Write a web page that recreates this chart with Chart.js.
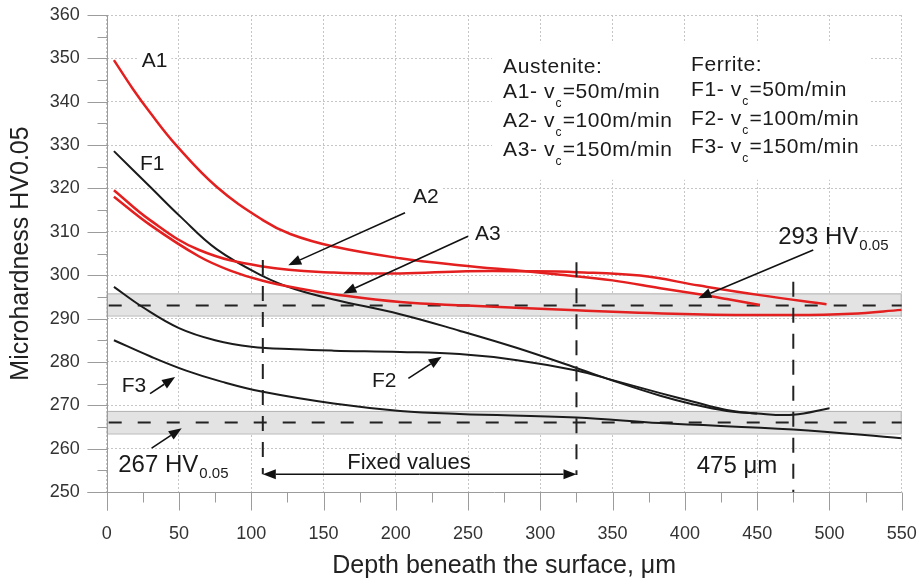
<!DOCTYPE html>
<html>
<head>
<meta charset="utf-8">
<script src="https://cdn.jsdelivr.net/npm/chart.js@4.4.1/dist/chart.umd.min.js"></script>
<style>
html,body{margin:0;padding:0;background:#fff;}
#wrap{width:919px;height:584px;}
</style>
</head>
<body>
<div id="wrap"><canvas id="c" width="919" height="584"></canvas></div>
<script>
// ---------- data ----------
const depthA1 = [5, 18, 30, 48, 76, 108, 127, 157, 203, 244, 290, 314, 350, 383, 410, 429, 452];
const hvA1    = [349.6, 343.0, 337.5, 330.0, 320.4, 312.7, 309.5, 306.6, 303.9, 302.3, 300.9, 300.1, 298.8, 297.0, 295.6, 294.5, 293.1];

const depthA2 = [5, 30, 64, 108, 157, 203, 249, 290, 325, 369, 410, 452, 498];
const hvA2    = [319.6, 312.7, 305.8, 302.0, 300.6, 300.4, 300.9, 300.9, 300.7, 299.9, 297.6, 295.4, 293.3];

const depthA3 = [5, 30, 64, 86, 108, 135, 157, 203, 249, 325, 406, 475, 515, 550];
const hvA3    = [318.1, 311.6, 304.3, 301.0, 298.7, 296.8, 295.6, 293.8, 293.0, 291.9, 291.0, 290.8, 291.1, 292.0];

const depthF1 = [5, 30, 51, 76, 108, 130, 157, 203, 244, 284, 325, 350, 383, 406, 429, 450];
const hvF1    = [328.6, 320.4, 313.5, 306.0, 299.8, 296.8, 294.4, 291.0, 287.2, 283.2, 278.6, 275.7, 272.2, 270.2, 268.7, 268.1];

const depthF2 = [5, 25, 50, 75, 100, 130, 157, 203, 244, 284, 325, 350, 383, 406, 429, 450, 475, 500];
const hvF2    = [297.3, 292.6, 287.8, 285.0, 283.5, 282.9, 282.6, 282.3, 281.8, 280.4, 278.0, 275.8, 272.8, 270.8, 268.9, 268.1, 267.8, 269.3];

const depthF3 = [5, 30, 55, 80, 108, 157, 203, 244, 325, 383, 475, 550];
const hvF3    = [285.0, 281.3, 278.0, 275.4, 273.1, 270.4, 268.7, 268.0, 267.2, 265.9, 264.4, 262.4];

// axis ranges / ticks
const xMin = 0, xMax = 550, xStep = 50, xMinorStep = 25;
const yMin = 250, yMax = 360, yStep = 10, yMinorStep = 5;

// reference levels (dashed horizontal lines) and scatter bands
const refLevels = [293, 266];
const refBandLow  = [290.7, 263.5];
const refBandHigh = [295.8, 268.7];

// vertical dashed markers
const markerDepth = [108, 325, 475];
const markerTop   = [303.5, 303.0, 298.5];
const markerBot   = [254.1, 253.9, 250];

// "Fixed values" span
const fixedFrom = 108, fixedTo = 325, fixedLevel = 254.1;

// annotation arrows: tail -> tip (data units)
const arrowTailX = [206.4, 250.0, 488.8, 30.0, 208.7, 31.1];
const arrowTailY = [314.4, 309.0, 305.8, 272.7, 276.2, 260.1];
const arrowTipX  = [125.6, 163.7, 409.3, 47.3, 231.7, 51.9];
const arrowTipY  = [302.3, 295.8, 294.7, 276.5, 281.2, 264.7];

// curve labels
const curveLabelText = ['A1', 'F1', 'A2', 'A3', 'F3', 'F2'];
const curveLabelX    = [24.2, 23.0, 211.9, 254.8, 10.4, 183.5];
const curveLabelY    = [348.0, 324.25, 316.6, 308.1, 273.0, 274.2];

// legend text
const legendAustenite = ['A1- v|c|=50m/min', 'A2- v|c|=100m/min', 'A3- v|c|=150m/min'];
const legendFerrite   = ['F1- v|c|=50m/min', 'F2- v|c|=100m/min', 'F3- v|c|=150m/min'];

// ---------- styling ----------
const FONT = '"Liberation Sans", Arial, Helvetica, sans-serif';
const RED = '#e3201f';
const BLACK = '#1b1b1b';
const toPts = (xs, ys) => xs.map((v, i) => ({x: v, y: ys[i]}));

const decor = {
  id: 'decor',
  beforeDatasetsDraw(chart) {
    const {ctx, scales: {x, y}} = chart;
    const X = v => x.getPixelForValue(v), Y = v => y.getPixelForValue(v);
    ctx.save();
    // white box behind legend text
    ctx.fillStyle = '#fff';
    ctx.fillRect(X(266.6), Y(353.5), X(528) - X(266.6), Y(322) - Y(353.5));
    // white boxes behind curve labels
    ctx.font = '21px ' + FONT;
    curveLabelText.forEach((t, i) => {
      const w = ctx.measureText(t).width;
      ctx.fillRect(X(curveLabelX[i]) - 4, Y(curveLabelY[i]) - 19, w + 8, 24);
    });
    // bands
    for (let i = 0; i < refLevels.length; i++) {
      const t = Y(refBandHigh[i]), b = Y(refBandLow[i]);
      ctx.fillStyle = '#e3e3e3';
      ctx.fillRect(X(xMin), t, X(xMax) - X(xMin), b - t);
      ctx.strokeStyle = '#b3b3b3';
      ctx.lineWidth = 1;
      ctx.strokeRect(X(xMin) + 0.5, t + 0.5, X(xMax) - X(xMin) - 1, b - t);
    }
    // dashed reference lines
    ctx.strokeStyle = '#222';
    ctx.lineWidth = 2;
    ctx.setLineDash([13, 16]);
    ctx.lineDashOffset = -2;
    refLevels.forEach(v => {
      ctx.beginPath();
      ctx.moveTo(X(xMin), Y(v));
      ctx.lineTo(X(xMax), Y(v));
      ctx.stroke();
    });
    ctx.setLineDash([]);
    // axes and ticks
    ctx.strokeStyle = '#9c9c9c';
    ctx.lineWidth = 1;
    const x0 = Math.round(X(xMin)) + 0.5, yb = Math.round(Y(yMin)) + 0.5;
    ctx.beginPath();
    ctx.moveTo(x0, Y(yMax)); ctx.lineTo(x0, yb + 18);
    ctx.moveTo(x0 - 20, yb); ctx.lineTo(X(xMax), yb);
    for (let v = yMin; v <= yMax; v += yStep) {
      const p = Math.round(Y(v)) + 0.5;
      ctx.moveTo(x0 - 20, p); ctx.lineTo(x0, p);
    }
    for (let v = yMin + yMinorStep; v < yMax; v += yStep) {
      const p = Math.round(Y(v)) + 0.5;
      ctx.moveTo(x0 - 10, p); ctx.lineTo(x0, p);
    }
    for (let v = xMin; v <= xMax; v += xStep) {
      const p = Math.round(X(v)) + 0.5;
      ctx.moveTo(p, yb); ctx.lineTo(p, yb + 18);
    }
    for (let v = xMinorStep; v < xMax; v += xStep) {
      const p = Math.round(X(v)) + 0.5;
      ctx.moveTo(p, yb); ctx.lineTo(p, yb + 10);
    }
    ctx.stroke();
    ctx.restore();
  },
  afterDatasetsDraw(chart) {
    const {ctx, scales: {x, y}} = chart;
    const X = v => x.getPixelForValue(v), Y = v => y.getPixelForValue(v);
    ctx.save();
    // vertical dashed markers
    ctx.strokeStyle = '#222';
    ctx.lineWidth = 2;
    ctx.setLineDash([15, 11]);
    markerDepth.forEach((d, i) => {
      ctx.beginPath();
      ctx.moveTo(X(d), Y(markerTop[i]));
      ctx.lineTo(X(d), Y(markerBot[i]));
      ctx.stroke();
    });
    ctx.setLineDash([]);
    // arrow helper
    const arrow = (x1, y1, x2, y2, len, half) => {
      const a = Math.atan2(y2 - y1, x2 - x1);
      const bx = x2 - len * Math.cos(a), by = y2 - len * Math.sin(a);
      ctx.beginPath();
      ctx.moveTo(x1, y1); ctx.lineTo(bx, by);
      ctx.stroke();
      ctx.beginPath();
      ctx.moveTo(x2, y2);
      ctx.lineTo(bx + half * Math.sin(a), by - half * Math.cos(a));
      ctx.lineTo(bx - half * Math.sin(a), by + half * Math.cos(a));
      ctx.closePath();
      ctx.fill();
    };
    ctx.strokeStyle = '#111';
    ctx.fillStyle = '#111';
    ctx.lineWidth = 1.6;
    for (let i = 0; i < arrowTipX.length; i++) {
      arrow(X(arrowTailX[i]), Y(arrowTailY[i]), X(arrowTipX[i]), Y(arrowTipY[i]), 13, 5);
    }
    // fixed values double arrow
    const fy = Y(fixedLevel);
    const mid = (X(fixedFrom) + X(fixedTo)) / 2;
    arrow(mid, fy, X(fixedTo), fy, 13, 5);
    arrow(mid, fy, X(fixedFrom), fy, 13, 5);

    // texts
    ctx.fillStyle = '#1a1a1a';
    ctx.textBaseline = 'alphabetic';
    ctx.textAlign = 'left';
    ctx.font = '21px ' + FONT;
    curveLabelText.forEach((t, i) => ctx.fillText(t, X(curveLabelX[i]), Y(curveLabelY[i])));

    const hv = (main, sub, xd, yd) => {
      ctx.font = '24px ' + FONT;
      const px = X(xd), py = Y(yd);
      ctx.fillText(main, px, py);
      const w = ctx.measureText(main).width;
      ctx.font = '15px ' + FONT;
      ctx.fillText(sub, px + w + 1, py + 6);
    };
    hv('293 HV', '0.05', 464.6, 307.1);
    hv('267 HV', '0.05', 8.0, 254.5);

    ctx.font = '22px ' + FONT;
    ctx.textAlign = 'center';
    ctx.fillText('Fixed values', X(209.1), Y(255.2));
    ctx.textAlign = 'left';
    ctx.font = '24px ' + FONT;
    ctx.fillText('475 μm', X(408.2), Y(254.4));

    // legend
    if ('letterSpacing' in ctx) ctx.letterSpacing = '0.6px';
    const rich = (str, px, py) => {
      const parts = str.split('|');
      let cx = px;
      parts.forEach((p, k) => {
        if (k === 1) {
          ctx.font = '12px ' + FONT;
          ctx.fillText(p, cx + 0.5, py + 9);
          cx += ctx.measureText(p).width + 1;
        } else {
          ctx.font = '21px ' + FONT;
          ctx.fillText(p, cx, py);
          cx += ctx.measureText(p).width;
        }
      });
    };
    ctx.font = '21px ' + FONT;
    ctx.fillText('Austenite:', X(274.2), Y(346.55));
    ctx.fillText('Ferrite:', X(404.2), Y(347.15));
    const aY = [340.79, 334.1, 327.48];
    const fY = [341.39, 334.63, 328.1];
    legendAustenite.forEach((s, i) => rich(s, X(274.2), Y(aY[i])));
    legendFerrite.forEach((s, i) => rich(s, X(404.2), Y(fY[i])));
    if ('letterSpacing' in ctx) ctx.letterSpacing = '0px';
    ctx.restore();
  }
};

const mk = (label, xs, ys, color, w) => ({
  label, data: toPts(xs, ys), borderColor: color, borderWidth: w,
  pointRadius: 0, fill: false, tension: 0.4
});

new Chart(document.getElementById('c'), {
  type: 'line',
  data: {
    datasets: [
      mk('A1', depthA1, hvA1, RED, 2.5),
      mk('A2', depthA2, hvA2, RED, 2.5),
      mk('A3', depthA3, hvA3, RED, 2.5),
      mk('F1', depthF1, hvF1, BLACK, 2),
      mk('F2', depthF2, hvF2, BLACK, 2),
      mk('F3', depthF3, hvF3, BLACK, 2)
    ]
  },
  options: {
    responsive: false,
    animation: false,
    devicePixelRatio: 1,
    layout: {padding: {top: 15, right: 17.3, left: 0, bottom: 0}},
    plugins: {legend: {display: false}, tooltip: {enabled: false}},
    scales: {
      x: {
        type: 'linear', min: xMin, max: xMax,
        ticks: {stepSize: xStep, font: {size: 18, family: FONT}, color: '#333', padding: 0, maxRotation: 0},
        grid: {color: '#c6c6c6', drawTicks: true, tickLength: 31, tickColor: 'rgba(0,0,0,0)'},
        border: {display: false, dash: [2, 2]},
        title: {display: true, text: 'Depth beneath the surface, μm', font: {size: 25, family: FONT}, color: '#222', padding: {top: 0, bottom: 3}},
        afterFit(s) { s.height = 92; }
      },
      y: {
        type: 'linear', min: yMin, max: yMax,
        ticks: {stepSize: yStep, font: {size: 18, family: FONT}, color: '#333', padding: 0},
        grid: {color: '#c6c6c6', drawTicks: true, tickLength: 27, tickColor: 'rgba(0,0,0,0)'},
        border: {display: false, dash: [2, 2]},
        title: {display: true, text: 'Microhardness HV0.05', font: {size: 25, family: FONT}, color: '#222', padding: {top: 6, bottom: 0}},
        afterFit(s) { s.width = 106.7; }
      }
    }
  },
  plugins: [decor]
});
</script>
</body>
</html>
